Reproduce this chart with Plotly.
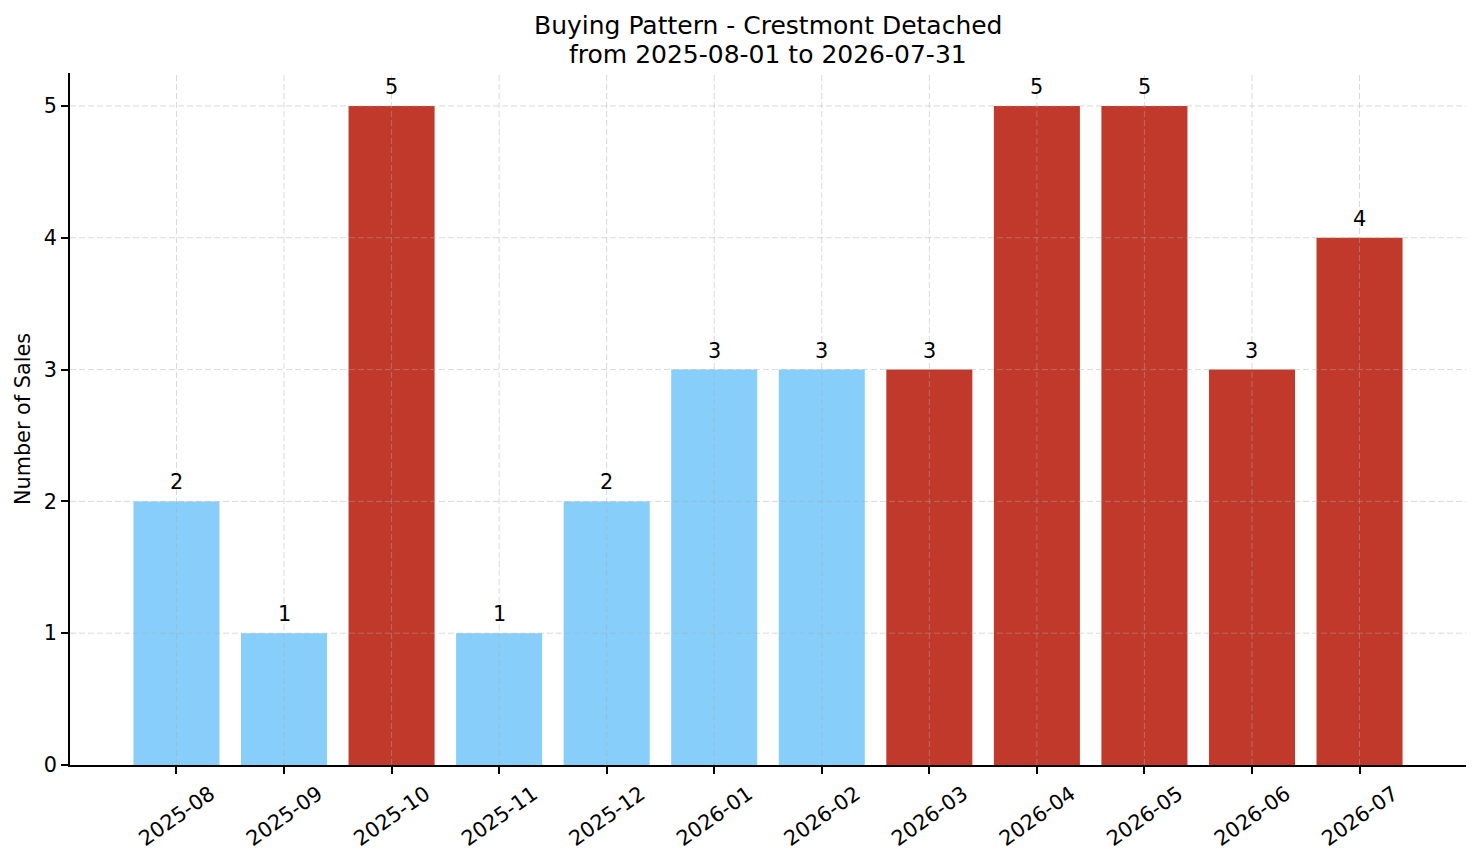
import plotly.graph_objects as go

months = ["2025-08", "2025-09", "2025-10", "2025-11", "2025-12", "2026-01",
          "2026-02", "2026-03", "2026-04", "2026-05", "2026-06", "2026-07"]
sales = [2, 1, 5, 1, 2, 3, 3, 3, 5, 5, 3, 4]
# months shown in the darker colour on the original
peak = [False, False, True, False, False, False, False, True, True, True, True, True]
y_ticks = [0, 1, 2, 3, 4, 5]
title_lines = ["Buying Pattern - Crestmont Detached", "from 2025-08-01 to 2026-07-31"]

BLUE = "#87CEFA"
RED = "#C0392B"
GRID = "rgba(170,170,170,0.45)"
FONT = "DejaVu Sans"

colors = [RED if p else BLUE for p in peak]

fig = go.Figure()
fig.add_trace(go.Bar(
    x=months, y=sales,
    marker_color=colors, marker_line_width=0,
))

# matplotlib draws the dashed grid on top of the bars
shapes = []
for m in months:
    shapes.append(dict(type="line", xref="x", yref="paper", x0=m, x1=m, y0=0, y1=1,
                       layer="above", line=dict(color=GRID, width=1, dash="6px,3px")))
for t in y_ticks[1:]:
    shapes.append(dict(type="line", xref="paper", yref="y", x0=0, x1=1, y0=t, y1=t,
                       layer="above", line=dict(color=GRID, width=1, dash="6px,3px")))

annotations = []
for m, v in zip(months, sales):
    annotations.append(dict(x=m, y=v, xref="x", yref="y", text=str(v), showarrow=False,
                            yanchor="bottom", yshift=5,
                            font=dict(size=20.8, family=FONT, color="black")))
for i, line in enumerate(title_lines):
    annotations.append(dict(x=0.5, y=1, xref="paper", yref="paper", text=line, showarrow=False,
                            xanchor="center", yanchor="bottom", yshift=31 - 29 * i,
                            font=dict(size=25, family=FONT, color="black")))

fig.update_layout(
    width=1481, height=863,
    margin=dict(l=70, r=15, t=73, b=96),
    paper_bgcolor="white", plot_bgcolor="white",
    font=dict(family=FONT, size=20.8, color="black"),
    bargap=0.2,
    showlegend=False,
    shapes=shapes,
    annotations=annotations,
)
fig.update_xaxes(
    type="category", range=[-0.99, 11.99],
    showgrid=False, showline=True, linecolor="black", linewidth=1.7,
    ticks="outside", ticklen=7, tickwidth=1.7, tickcolor="black",
    tickangle=-35, tickfont=dict(size=20.8, family=FONT),
    ticklabelshift=34,
    zeroline=False,
)
fig.update_yaxes(
    range=[0, 5.25], tickvals=y_ticks,
    showgrid=False, showline=True, linecolor="black", linewidth=1.7,
    ticks="outside", ticklen=7, tickwidth=1.7, tickcolor="black",
    tickfont=dict(size=20.8, family=FONT),
    title=dict(text="Number of Sales", font=dict(size=20.8, family=FONT), standoff=7),
    zeroline=False,
)

fig.write_html("out.html", config={"displayModeBar": False},
               post_script="document.body.style.margin='0px';")
